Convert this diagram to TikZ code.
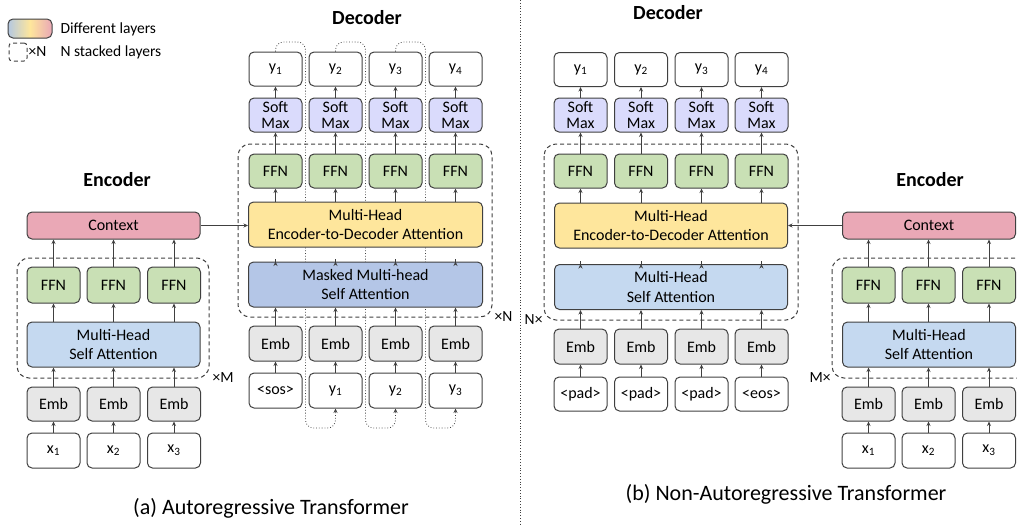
\documentclass[tikz,border=0pt]{standalone}
\usepackage{fontspec}
\setmainfont{Carlito}
\usetikzlibrary{arrows.meta,backgrounds}
\definecolor{boxline}{RGB}{64,64,64}
\definecolor{ctxpink}{RGB}{234,168,182}
\definecolor{ffngreen}{RGB}{201,224,181}
\definecolor{e2dyellow}{RGB}{254,230,156}
\definecolor{maskblue}{RGB}{180,198,231}
\definecolor{attblue}{RGB}{197,217,240}
\definecolor{smpurple}{RGB}{218,219,252}
\definecolor{embgrey}{RGB}{231,231,231}
\begin{document}
\begin{tikzpicture}[x=1pt,y=-1pt,
  box/.style={draw=boxline,line width=1pt,rounded corners=5pt,inner sep=0pt,align=center,font=\fontsize{16}{15.5}\selectfont},
  colbox/.style={box,minimum width=53pt,minimum height=34pt},
  widebox/.style={box,minimum height=45pt,font=\fontsize{16}{19.5}\selectfont},
  stack/.style={draw=boxline,line width=1pt,dash pattern=on 4pt off 3pt,rounded corners=12pt},
  flow/.style={draw=boxline,line width=0.8pt,-{Stealth[length=4.5pt,width=4pt]}},
  feedback/.style={draw=boxline,line width=0.8pt,dotted,rounded corners=8pt,-{Stealth[length=4.5pt,width=4pt]}},
  title/.style={font=\fontsize{20}{21}\selectfont\bfseries},
  caption/.style={font=\fontsize{22}{23}\selectfont},
  label/.style={font=\fontsize{15.5}{16}\selectfont}]
\useasboundingbox (0,0) rectangle (1017,525);

% legend
\node[box,minimum width=44pt,minimum height=19pt,left color={rgb,255:red,180;green,200;blue,225},right color=ctxpink,middle color=e2dyellow] (legendgrad) at (30,28.5) {};
\node[label,anchor=west] (legendtxtA) at (57,29) {Different layers};
\node[stack,rounded corners=3pt,minimum width=18pt,minimum height=18pt] (legendstack) at (18,52) {};
\node[label,anchor=west,inner sep=1pt] (legendtimes) at (legendstack.east) {×N};
\node[label,anchor=west] (legendtxtB) at (57,52) {N stacked layers};

% (a) encoder
\node[title] (enctitleA) at (117,180) {Encoder};
\node[box,fill=ctxpink,minimum width=173pt,minimum height=27pt] (ctxA) at (113.5,225.5) {Context};
\node[widebox,fill=attblue,minimum width=173pt] (encattA) at (113.5,344.5) {Multi-Head\\Self Attention};
\foreach \i/\x in {1/53.5,2/113.5,3/174}{
  \node[colbox,fill=ffngreen,minimum height=36pt] (encffnA\i) at (\x,285) {FFN};
  \node[colbox,fill=embgrey] (encembA\i) at (\x,404) {Emb};
  \node[colbox,minimum height=35pt] (xinA\i) at (\x,450.5) {x\textsubscript{\i}};
  \draw[flow] (xinA\i) -- (encembA\i);
  \draw[flow] (encembA\i.north) -- (encembA\i.north |- encattA.south);
  \draw[flow] (encattA.north -| encffnA\i) -- (encffnA\i.south);
  \draw[flow] (encffnA\i.north) -- (encffnA\i.north |- ctxA.south);
}
\draw[stack] (17,258) rectangle (209,378);
\node[label,anchor=west] (timesM) at (209,378) {×M};

% (a) decoder
\node[title] (dectitleA) at (367,18) {Decoder};
\node[widebox,fill=e2dyellow,minimum width=234pt] (e2dA) at (365.5,224.5) {Multi-Head\\Encoder-to-Decoder Attention};
\node[widebox,fill=maskblue,minimum width=234pt] (maskA) at (365.5,284.5) {Masked Multi-head\\Self Attention};
\foreach \i/\x/\inp in {1/275.5/{<sos>},2/335.5/{y\textsubscript{1}},3/395.5/{y\textsubscript{2}},4/455.5/{y\textsubscript{3}}}{
  \node[colbox] (outA\i) at (\x,69) {y\textsubscript{\i}};
  \node[colbox,fill=smpurple] (smA\i) at (\x,115) {Soft\\Max};
  \node[colbox,fill=ffngreen] (ffnA\i) at (\x,171) {FFN};
  \node[colbox,fill=embgrey,minimum height=35pt] (embA\i) at (\x,343.5) {Emb};
  \node[colbox,minimum height=35pt] (inA\i) at (\x,390.5) {\inp};
  \draw[flow] (inA\i) -- (embA\i);
  \draw[flow] (embA\i.north) -- (embA\i.north |- maskA.south);
  \draw[flow] (maskA.north -| embA\i) -- (maskA.north -| embA\i |- e2dA.south);
  \draw[flow] (e2dA.north -| ffnA\i) -- (ffnA\i.south);
  \draw[flow] (ffnA\i) -- (smA\i);
  \draw[flow] (smA\i) -- (outA\i);
}
\draw[stack] (238,144) rectangle (492,317);
\node[label,anchor=west] (timesN) at (491,317) {×N};
\draw[flow] (ctxA.east) -- (ctxA.east -| e2dA.west);
\begin{scope}[on background layer]
  \foreach \i/\j/\gx in {1/2/305.5,2/3/365.5,3/4/425.5}
    \draw[feedback] (outA\i.north) |- (\gx,42) -- (\gx,428) -| (inA\j.south);
\end{scope}
\node[caption] (captionA) at (271,508) {(a) Autoregressive Transformer};

% separator
\draw[boxline,line width=0.8pt,dotted] (520,0) -- (520,525);

% (b) decoder
\node[title] (dectitleB) at (668,13) {Decoder};
\node[widebox,fill=e2dyellow,minimum width=233pt] (e2dB) at (671,225.5) {Multi-Head\\Encoder-to-Decoder Attention};
\node[widebox,fill=attblue,minimum width=233pt] (attB) at (671,287) {Multi-Head\\Self Attention};
\foreach \i/\x/\inp in {1/580.5/{<pad>},2/641/{<pad>},3/701.5/{<pad>},4/761.5/{<eos>}}{
  \node[colbox] (outB\i) at (\x,69.5) {y\textsubscript{\i}};
  \node[colbox,fill=smpurple] (smB\i) at (\x,115) {Soft\\Max};
  \node[colbox,fill=ffngreen] (ffnB\i) at (\x,171) {FFN};
  \node[colbox,fill=embgrey,minimum height=35pt] (embB\i) at (\x,346.5) {Emb};
  \node[colbox] (inB\i) at (\x,394) {\inp};
  \draw[flow] (inB\i) -- (embB\i);
  \draw[flow] (embB\i.north) -- (embB\i.north |- attB.south);
  \draw[flow] (attB.north -| embB\i) -- (attB.north -| embB\i |- e2dB.south);
  \draw[flow] (e2dB.north -| ffnB\i) -- (ffnB\i.south);
  \draw[flow] (ffnB\i) -- (smB\i);
  \draw[flow] (smB\i) -- (outB\i);
}
\draw[stack] (544,144) rectangle (798,320);
\node[label,anchor=east] (timesNB) at (546,320) {N×};

% (b) encoder
\node[title] (enctitleB) at (930,180) {Encoder};
\node[box,fill=ctxpink,minimum width=173pt,minimum height=27pt] (ctxB) at (929,225.5) {Context};
\node[widebox,fill=attblue,minimum width=173pt] (encattB) at (929,344.5) {Multi-Head\\Self Attention};
\foreach \i/\x in {1/868.5,2/928.5,3/989}{
  \node[colbox,fill=ffngreen,minimum height=36pt] (encffnB\i) at (\x,285) {FFN};
  \node[colbox,fill=embgrey] (encembB\i) at (\x,404) {Emb};
  \node[colbox,minimum height=35pt] (xinB\i) at (\x,450.5) {x\textsubscript{\i}};
  \draw[flow] (xinB\i) -- (encembB\i);
  \draw[flow] (encembB\i.north) -- (encembB\i.north |- encattB.south);
  \draw[flow] (encattB.north -| encffnB\i) -- (encffnB\i.south);
  \draw[flow] (encffnB\i.north) -- (encffnB\i.north |- ctxB.south);
}
\draw[stack] (832,258) rectangle (1045,378);
\node[label,anchor=east] (timesMB) at (834,378) {M×};
\draw[flow] (ctxB.west) -- (ctxB.west -| e2dB.east);
\node[caption] (captionB) at (786,494) {(b) Non-Autoregressive Transformer};
\end{tikzpicture}
\end{document}
